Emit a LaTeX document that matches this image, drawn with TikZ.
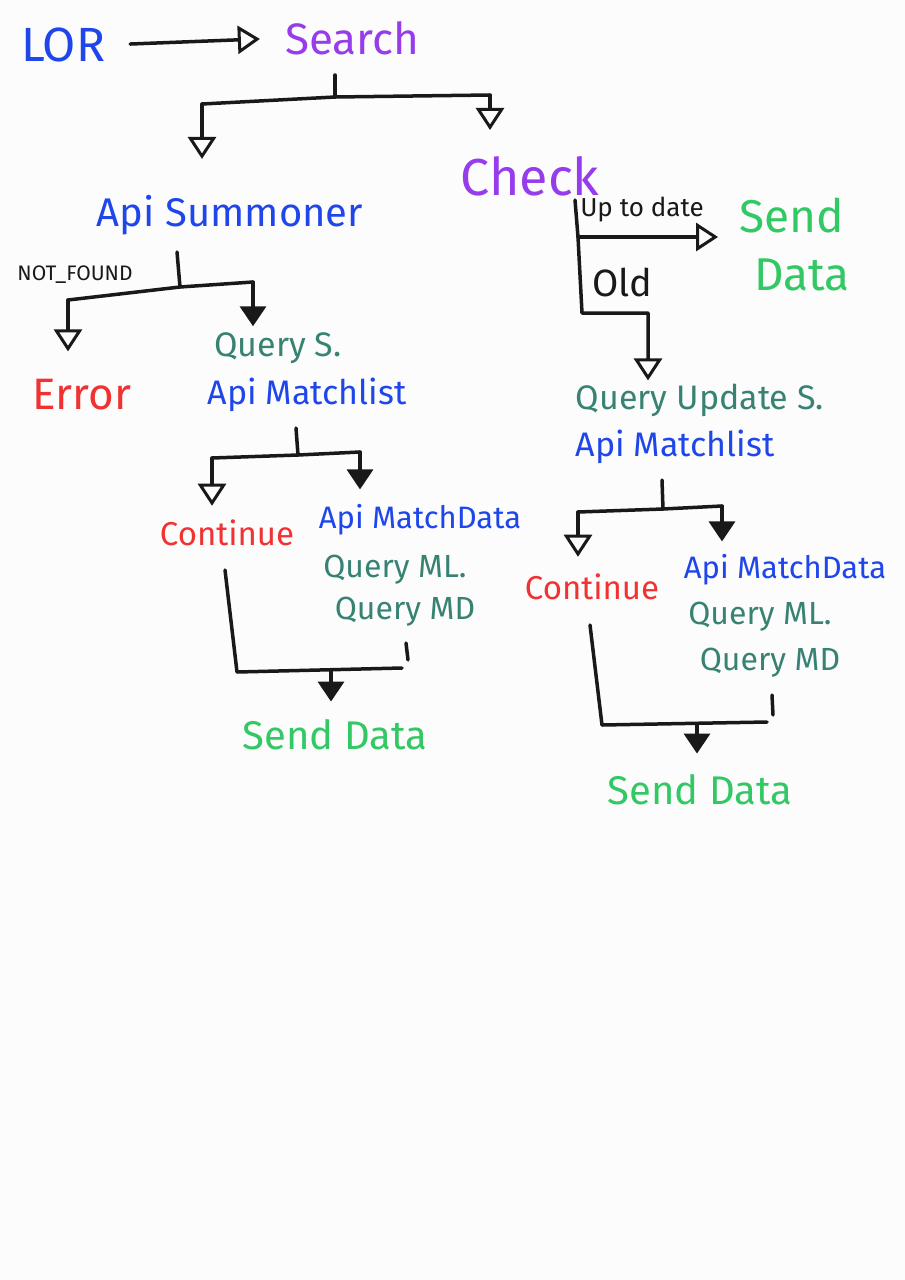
\documentclass[tikz,border=0pt]{standalone}
\usepackage{fontspec}
\setmainfont{Fira Sans}
\usetikzlibrary{arrows.meta}
\definecolor{cblue}{RGB}{30,70,235}
\definecolor{cpurple}{RGB}{150,60,235}
\definecolor{cgreen}{RGB}{50,200,100}
\definecolor{cteal}{RGB}{55,130,115}
\definecolor{cred}{RGB}{240,50,50}
\definecolor{cink}{RGB}{25,25,25}
\newcommand{\fsz}[1]{\fontsize{#1}{#1}\selectfont}
\begin{document}
\begin{tikzpicture}[x=1pt,y=-1pt,
  lbl/.style={inner sep=0pt,anchor=center},
  bluet/.style={lbl,text=cblue},
  purpt/.style={lbl,text=cpurple},
  greent/.style={lbl,text=cgreen},
  tealt/.style={lbl,text=cteal},
  redt/.style={lbl,text=cred},
  inkt/.style={lbl,text=cink},
  flow/.style={line width=3.5pt,draw=cink,line cap=round,line join=round},
  oarr/.style={flow,-{Triangle[open,length=22pt,width=28pt,line width=3pt]}},
  farr/.style={flow,-{Triangle[length=20pt,width=26pt]}}]
\fill[white!99!black] (0,0) rectangle (905,1280);
% nodes
\node[bluet,font=\fsz{48}] (lor) at (63,45) {LOR};
\node[purpt,font=\fsz{44}] (search) at (352,38) {Search};
\node[purpt,font=\fsz{52}] (check) at (530,176) {Check};
\node[bluet,font=\fsz{40}] (apis) at (230,215) {Api Summoner};
\node[inkt,font=\fsz{21}] (nf) at (75,275) {NOT\_FOUND};
\node[redt,font=\fsz{44}] (err) at (82,395) {Error};
\node[tealt,font=\fsz{34}] (qs) at (278,348) {Query S.};
\node[bluet,font=\fsz{34}] (aml) at (307,395) {Api Matchlist};
\node[redt,font=\fsz{33}] (cont1) at (227,533) {Continue};
\node[bluet,font=\fsz{31}] (amd1) at (420,520) {Api MatchData};
\node[tealt,font=\fsz{32}] (qml1) at (395,570) {Query ML.};
\node[tealt,font=\fsz{32}] (qmd1) at (405,612) {Query MD};
\node[greent,font=\fsz{40}] (sd1) at (335,735) {Send Data};
\node[inkt,font=\fsz{26}] (upd) at (642,210) {Up to date};
\node[greent,font=\fsz{46},align=center,execute at begin node={\setlength{\baselineskip}{58pt}}] (sd0) at (792,245) {Send\\\hspace*{20pt}Data};
\node[inkt,font=\fsz{38}] (old) at (622,282) {Old};
\node[tealt,font=\fsz{34}] (qus) at (700,400) {Query Update S.};
\node[bluet,font=\fsz{34}] (aml2) at (675,447) {Api Matchlist};
\node[redt,font=\fsz{33}] (cont2) at (592,587) {Continue};
\node[bluet,font=\fsz{31}] (amd2) at (785,570) {Api MatchData};
\node[tealt,font=\fsz{32}] (qml2) at (760,617) {Query ML.};
\node[tealt,font=\fsz{32}] (qmd2) at (770,663) {Query MD};
\node[greent,font=\fsz{40}] (sd2) at (700,790) {Send Data};
% coordinates
\coordinate (s0) at (335,75);
\coordinate (s1) at (335,97);
\coordinate (sl) at (202,104);
\coordinate (sr) at (490,95);
\coordinate (a0) at (177,252);
\coordinate (a1) at (180,287);
\coordinate (al) at (68,300);
\coordinate (ar) at (253,282);
\coordinate (m0) at (296,428);
\coordinate (m1) at (298,455);
\coordinate (ml) at (212,458);
\coordinate (mr) at (360,452);
\coordinate (b0) at (225,570);
\coordinate (b1) at (237,672);
\coordinate (b2) at (402,668);
\coordinate (b3) at (406,643);
\coordinate (b4) at (408,660);
\coordinate (bm) at (331,671);
\coordinate (c0) at (575,200);
\coordinate (c1) at (578,237);
\coordinate (c2) at (582,313);
\coordinate (c3) at (648,313);
\coordinate (n0) at (662,480);
\coordinate (n1) at (663,509);
\coordinate (nl) at (578,512);
\coordinate (nr) at (722,506);
\coordinate (d0) at (590,625);
\coordinate (d1) at (602,725);
\coordinate (d2) at (767,722);
\coordinate (d3) at (772,695);
\coordinate (d4) at (773,715);
\coordinate (dm) at (697,724);
% connectors
\draw[oarr,shorten <=25pt,shorten >=25pt] (lor.east) -- (search.west);
\draw[flow] (s0) -- (s1);
\draw[flow] (sl) -- (s1) -- (sr);
\draw[oarr,shorten >=36pt] (sl) -- (sl |- apis.north);
\draw[oarr,shorten >=26pt] (sr) -- (sr |- check.north);
\draw[flow] (a0) -- (a1);
\draw[flow] (al) -- (a1) -- (ar);
\draw[oarr,shorten >=28pt] (al) -- (al |- err.north);
\draw[farr,shorten >=6pt] (ar) -- (ar |- qs.north);
\draw[flow] (m0) -- (m1);
\draw[flow] (ml) -- (m1) -- (mr);
\draw[oarr,shorten >=14pt] (ml) -- (ml |- cont1.north);
\draw[farr,shorten >=15pt] (mr) -- (mr |- amd1.north);
\draw[flow] (b0) -- (b1) -- (b2);
\draw[flow] (b3) -- (b4);
\draw[farr,shorten >=18pt] (bm) -- (bm |- sd1.north);
\draw[flow] (c0) -- (c1);
\draw[oarr,shorten >=16pt] (c1) -- (c1 -| sd0.west);
\draw[oarr,shorten >=3pt] (c1) -- (c2) -- (c3) -- (c3 |- qus.north);
\draw[flow] (n0) -- (n1);
\draw[flow] (nl) -- (n1) -- (nr);
\draw[oarr,shorten >=17pt] (nl) -- (nl |- cont2.north);
\draw[farr,shorten >=13pt] (nr) -- (nr |- amd2.north);
\draw[flow] (d0) -- (d1) -- (d2);
\draw[flow] (d3) -- (d4);
\draw[farr,shorten >=21pt] (dm) -- (dm |- sd2.north);
\end{tikzpicture}
\end{document}
